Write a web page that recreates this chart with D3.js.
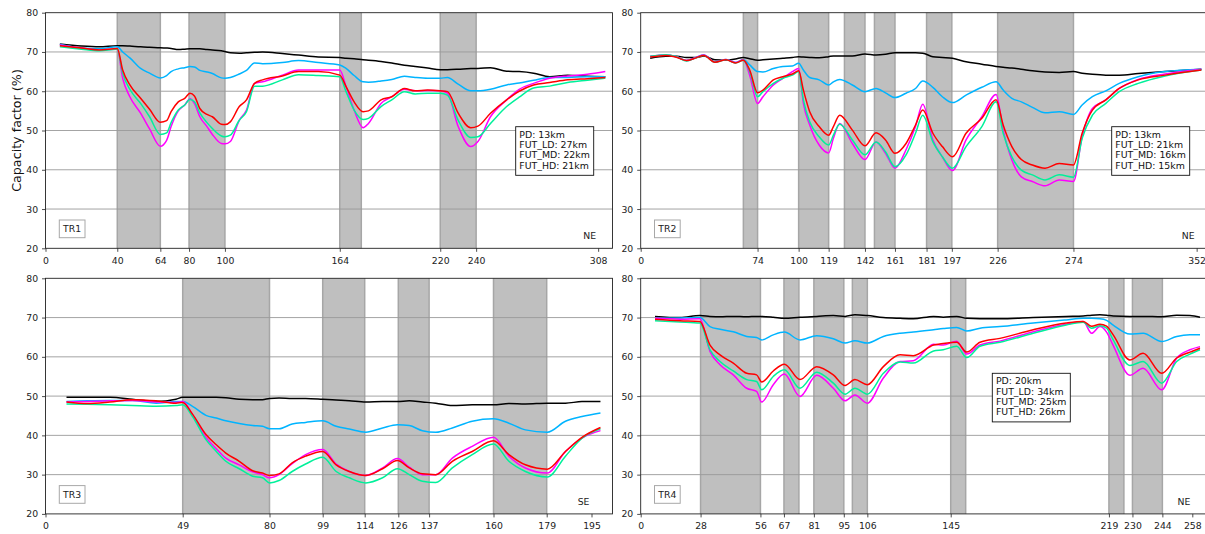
<!DOCTYPE html>
<html><head><meta charset="utf-8">
<script src="https://cdn.jsdelivr.net/npm/d3@7"></script>
<style>body{margin:0;background:#fff}svg{display:block;font-family:"DejaVu Sans",sans-serif}</style>
</head><body><svg id="c" width="1205" height="534"></svg>
<script>
// ---------------- DATA ----------------
const seriesNames = ["black", "blue", "magenta", "green", "red"];
const yTicks = [20, 30, 40, 50, 60, 70, 80];

// TR1
const tr1_dist = [8,20,30,40,43,47,53,58,64,67.5,70,74,77.6,80.5,83,86,90,93,98,100,103,108,112,116.5,121,132,141,152,164,167.5,172,177,180,187,193,200,206,213,220,224,230,237,241,248,257,264,272,281,291,302,312];
const tr1_black = [72.0,71.5,71.3,71.6,71.6,71.5,71.3,71.2,71.1,71.0,70.9,70.6,70.7,70.8,70.8,70.8,70.6,70.5,70.3,70.1,69.8,69.7,69.8,69.9,70.0,69.6,69.2,68.7,68.6,68.4,68.3,68.0,67.9,67.6,67.2,66.6,66.3,65.9,65.5,65.5,65.6,65.8,65.8,66.0,65.1,65.0,64.6,63.7,64.1,63.8,63.7];
const tr1_blue = [72.0,71.0,70.8,71.3,70.0,68.5,65.8,64.6,63.4,64.0,65.0,65.7,66.0,66.3,66.2,65.3,64.9,64.5,63.4,63.3,63.5,64.4,65.3,67.2,67.0,67.3,67.8,67.3,66.7,65.8,64.0,62.4,62.3,62.6,63.0,63.8,63.5,63.3,63.3,63.5,61.8,60.1,60.1,60.5,61.6,62.1,62.8,63.5,63.5,63.7,63.7];
const tr1_red = [71.6,71.0,70.5,70.9,65.4,61.6,58.2,55.4,52.1,52.5,54.8,57.3,58.2,59.5,58.8,55.6,54.1,53.5,51.6,51.5,52.2,56.1,57.8,62.0,62.9,63.9,65.0,65.0,64.1,61.2,57.3,54.8,55.0,57.8,58.6,60.7,60.1,60.3,60.1,59.9,54.4,50.7,51.1,54.4,57.8,60.0,61.6,62.2,62.9,63.2,63.5];
const tr1_green = [71.3,70.7,70.3,70.7,64.6,60.5,56.9,53.5,49.0,49.4,52.0,55.2,56.5,57.9,57.3,54.5,52.0,50.5,48.6,48.4,48.8,52.6,54.8,61.3,61.3,62.9,64.2,64.0,63.7,59.9,55.2,52.8,53.1,56.1,57.8,59.9,59.3,59.5,59.5,59.0,52.6,48.2,48.4,51.8,56.1,58.5,60.8,61.3,62.2,62.8,63.3];
const tr1_magenta = [71.8,71.0,70.5,70.7,63.3,58.6,54.4,50.4,46.0,47.5,51.0,55.0,56.5,58.1,56.9,53.5,51.0,49.0,46.7,46.6,47.2,52.6,55.2,62.0,62.4,64.1,65.4,65.4,65.4,61.2,55.2,50.7,51.8,56.9,58.6,60.5,60.1,60.2,60.1,59.5,51.0,45.9,47.2,53.5,57.8,60.5,62.0,63.3,63.9,64.3,65.0];
const tr1_shades = [[40,64],[80,100],[164,176],[220,240]];
const tr1_xticks = [0,40,64,80,100,164,220,240,308];
const tr1_legend = ["PD: 13km","FUT_LD: 27km","FUT_MD: 22km","FUT_HD: 21km"];

// TR2
const tr2_dist = [6,16,23,29,35,40,47,54,60,65,69,74,77.4,84,90,96,100,103,107,113,119,122,126,134,142,149,155,161,168,174,178.6,185,191,197.4,206,216,225,229.5,235,241,248,256,265,274,279.5,286,294.5,303,315,332,355];
const tr2_black = [68.4,68.9,68.9,68.6,68.6,69.0,68.0,67.9,68.2,68.6,68.3,67.9,68.0,68.2,68.4,68.6,68.8,68.7,68.6,68.5,68.8,69.0,69.0,69.0,69.5,69.2,69.4,69.8,69.8,69.8,69.7,68.8,68.6,68.4,67.5,66.9,66.3,66.1,65.9,65.6,65.2,64.9,64.8,65.0,64.6,64.3,64.1,64.1,64.5,65.0,65.6];
const tr2_blue = [68.8,69.2,68.7,67.8,68.6,69.2,67.5,68.1,67.3,68.0,66.7,65.0,64.9,65.8,66.3,66.4,67.1,65.4,63.5,62.9,61.6,62.4,63.0,61.6,59.9,60.7,59.6,58.4,59.5,60.7,62.6,61.0,58.6,57.1,59.0,61.0,62.4,60.3,58.2,57.3,55.9,54.5,54.8,54.1,56.5,58.6,60.1,62.0,63.7,65.0,65.6];
const tr2_red = [68.7,69.1,68.6,67.8,68.5,69.1,67.4,68.0,67.2,67.9,65.4,59.6,60.3,62.9,63.7,64.4,65.2,60.3,54.8,51.0,48.8,51.0,53.9,50.1,46.1,49.4,47.6,44.2,46.7,51.4,55.2,49.3,45.9,43.3,49.3,53.1,57.8,51.4,45.9,42.6,41.2,40.4,41.6,41.2,49.3,55.2,57.8,60.7,62.9,64.1,65.4];
const tr2_green = [68.9,69.3,68.7,67.7,68.5,69.1,67.4,68.0,67.2,67.9,65.0,58.6,59.9,62.0,63.3,64.1,65.0,57.8,52.2,48.4,46.3,48.8,51.6,47.6,43.8,47.1,44.6,40.8,43.8,49.3,53.9,47.1,43.3,40.4,45.9,51.0,57.3,49.3,43.3,39.9,38.7,37.4,38.7,38.1,48.0,53.9,56.9,59.9,62.0,63.9,65.4];
const tr2_magenta = [68.9,69.3,68.7,67.8,68.6,69.2,67.5,68.1,67.3,68.0,64.1,56.9,58.6,61.6,63.3,65.0,65.8,56.9,51.4,46.3,44.3,48.0,51.8,46.7,42.6,47.1,44.2,40.4,45.1,51.0,56.7,47.6,43.3,39.8,47.6,53.5,59.2,50.1,42.5,38.2,37.0,35.9,37.4,37.0,48.4,55.6,57.8,60.7,63.0,64.4,65.6];
const tr2_shades = [[65,74],[100,119],[129,142],[148,161],[181,197],[226,274]];
const tr2_xticks = [0,74,100,119,142,161,181,197,226,274,352];
const tr2_legend = ["PD: 13km","FUT_LD: 21km","FUT_MD: 16km","FUT_HD: 15km"];

// TR3
const tr3_dist = [7.5,15,23,31,39.5,46.6,49,52.5,57.3,61,64.4,69.2,74,77.5,80,83.4,88.1,92.9,99,103.8,108.5,114.4,120.4,125.7,129.9,134.6,139.4,145.3,152.4,160,165.5,171.4,179.2,185.7,191.6,198.2];
const tr3_black = [49.7,49.7,49.7,49.2,48.6,49.2,49.7,49.7,49.7,49.7,49.6,49.2,49.1,49.1,49.4,49.5,49.4,49.4,49.2,49.0,48.8,48.5,48.6,48.6,48.8,48.5,48.2,47.6,47.8,47.8,48.1,48.0,48.2,48.2,48.6,48.6];
const tr3_blue = [48.6,48.8,48.9,48.9,48.2,48.6,48.6,47.4,45.1,44.4,43.7,43.0,42.5,42.3,41.7,41.7,42.9,43.3,43.7,42.3,41.6,40.8,41.9,42.7,42.5,41.2,40.8,41.9,43.6,44.2,43.1,41.4,40.8,43.6,44.8,45.7];
const tr3_red = [48.5,48.1,48.5,49.1,48.8,48.2,48.4,45.4,40.2,37.6,35.5,33.4,31.0,30.4,29.8,30.2,33.0,34.7,35.9,32.5,30.8,29.8,31.5,33.6,31.7,30.2,30.0,33.4,35.9,38.6,35.1,32.5,31.4,35.9,39.5,42.0];
const tr3_green = [48.0,47.9,47.8,47.6,47.4,47.6,47.8,44.8,38.9,35.9,33.4,31.5,29.6,29.2,27.9,28.5,30.8,32.7,34.4,30.8,29.2,27.9,29.2,31.5,30.0,28.3,28.0,31.7,35.1,37.8,33.4,30.8,29.4,34.7,39.3,41.7];
const tr3_magenta = [48.5,48.6,48.8,48.9,48.5,48.4,48.6,45.3,39.5,36.6,34.2,32.5,30.7,30.0,29.2,30.0,32.8,35.1,36.4,32.7,30.8,29.8,31.7,34.1,31.9,30.0,30.0,34.2,37.2,39.5,34.7,31.7,30.4,35.9,39.3,41.2];
const tr3_shades = [[49,80],[99,114],[126,137],[160,179]];
const tr3_xticks = [0,49,80,99,114,126,137,160,179,195];
const tr3_legend = [];

// TR4
const tr4_dist = [6.7,18.4,27.7,32.4,37.1,43.3,49.6,54.2,56.6,62,67.2,74.5,82.3,90.1,95.6,100.2,106,113.5,121.3,127.5,137,141.5,147.8,152.5,158.7,168,183.6,199,207,210.9,214.8,217.9,221,228.8,235,243.7,250.7,256.9,261.6];
const tr4_black = [70.3,70.0,70.5,70.3,70.2,70.3,70.2,70.3,70.3,70.1,69.8,70.1,70.3,70.5,70.3,70.7,70.5,70.0,69.8,69.7,70.3,70.1,70.3,69.8,69.7,69.7,70.0,70.3,70.4,70.6,70.7,70.6,70.4,70.3,70.3,70.2,70.6,70.5,70.1];
const tr4_blue = [69.8,69.9,70.0,67.7,67.0,66.4,65.2,64.9,64.3,65.6,66.3,64.3,65.4,64.6,63.5,64.1,63.5,65.2,66.0,66.3,66.9,67.2,67.5,66.6,67.3,67.7,68.6,69.4,69.8,69.8,69.7,69.3,68.1,65.8,66.0,63.9,65.2,65.6,65.6];
const tr4_red = [69.6,69.2,69.0,63.0,60.5,58.4,55.8,55.4,53.6,56.4,58.1,54.2,57.5,55.4,52.7,54.2,52.9,57.5,60.5,60.3,63.0,63.4,63.7,61.2,63.7,64.7,66.9,68.6,69.0,67.8,68.3,67.8,65.6,59.2,60.9,55.8,59.7,61.2,62.2];
const tr4_green = [69.2,68.9,68.6,61.8,58.8,56.4,54.2,53.7,51.6,55.0,56.7,52.0,56.1,53.3,50.5,52.0,50.5,55.8,58.7,58.4,61.5,61.8,62.7,59.8,62.7,63.7,66.0,68.1,68.8,67.3,67.9,67.3,64.3,57.8,58.8,53.3,58.8,60.7,61.8];
const tr4_magenta = [69.8,69.6,69.7,61.4,58.0,55.4,52.0,51.2,48.5,52.9,55.6,49.9,55.3,52.0,48.8,50.3,48.2,54.6,58.8,59.0,63.2,63.0,64.0,60.7,63.0,64.0,66.4,68.3,69.0,66.0,67.7,66.3,62.9,55.3,57.1,51.6,59.7,61.8,62.6];
const tr4_shades = [[28,56],[67,74],[81,95],[99,106],[145,152],[219,226],[230,244]];
const tr4_xticks = [0,28,56,67,81,95,106,145,219,230,244,258];
const tr4_legend = ["PD: 20km","FUT_LD: 34km","FUT_MD: 25km","FUT_HD: 26km"];

// ---------------- DRAW ----------------
const colors = {black:"#000000", blue:"#00b4ff", magenta:"#ff00ff", green:"#00f09a", red:"#ff0000"};
const svg = d3.select("#c");
const W = 567, H = 235.6;
const panels = [
  {name:"TR1", dir:"NE", x0:45.5, y0:12.7, xmax:316, dist:tr1_dist, s:{black:tr1_black,blue:tr1_blue,magenta:tr1_magenta,green:tr1_green,red:tr1_red}, shades:tr1_shades, xt:tr1_xticks, leg:tr1_legend, lx:470.2, ly:114, ylab:true},
  {name:"TR2", dir:"NE", x0:640.7, y0:12.7, xmax:359, dist:tr2_dist, s:{black:tr2_black,blue:tr2_blue,magenta:tr2_magenta,green:tr2_green,red:tr2_red}, shades:tr2_shades, xt:tr2_xticks, leg:tr2_legend, lx:471, ly:114},
  {name:"TR3", dir:"SE", x0:45.5, y0:278.3, xmax:202.5, dist:tr3_dist, s:{black:tr3_black,blue:tr3_blue,magenta:tr3_magenta,green:tr3_green,red:tr3_red}, shades:tr3_shades, xt:tr3_xticks, leg:tr3_legend},
  {name:"TR4", dir:"NE", x0:640.7, y0:278.3, xmax:265.2, dist:tr4_dist, s:{black:tr4_black,blue:tr4_blue,magenta:tr4_magenta,green:tr4_green,red:tr4_red}, shades:tr4_shades, xt:tr4_xticks, leg:tr4_legend, lx:351.6, ly:95}
];

panels.forEach(p => {
  const g = svg.append("g").attr("transform", `translate(${p.x0},${p.y0})`);
  const x = d3.scaleLinear().domain([0, p.xmax]).range([0, W]);
  const y = d3.scaleLinear().domain([20, 80]).range([H, 0]);
  const clipId = "clip" + p.name;
  g.append("clipPath").attr("id", clipId).append("rect").attr("width", W).attr("height", H);

  // shaded spans
  const sh = g.append("g");
  p.shades.forEach(([a, b]) => {
    sh.append("rect").attr("x", x(a)).attr("y", 0).attr("width", x(b) - x(a)).attr("height", H)
      .attr("fill", "#bfbfbf");
    [a, b].forEach(v => sh.append("line").attr("x1", x(v)).attr("x2", x(v)).attr("y1", 0).attr("y2", H)
      .attr("stroke", "#a6a6a6").attr("stroke-width", 1.5));
  });

  // gridlines
  g.append("g").selectAll("line").data(yTicks.slice(1, -1)).join("line")
    .attr("x1", 0).attr("x2", W).attr("y1", d => y(d)).attr("y2", d => y(d))
    .attr("stroke", "#9a9a9a").attr("stroke-width", 0.9);

  // lines
  const lg = g.append("g").attr("clip-path", `url(#${clipId})`);
  seriesNames.forEach(k => {
    const pts = p.dist.map((d, i) => [d, p.s[k][i]]);
    lg.append("path").datum(pts)
      .attr("d", d3.line().x(d => x(d[0])).y(d => y(d[1])).curve(d3.curveMonotoneX))
      .attr("fill", "none").attr("stroke", colors[k]).attr("stroke-width", 1.5)
      .attr("stroke-linejoin", "round");
  });

  // axes
  const xa = g.append("g").attr("transform", `translate(0,${H})`)
    .call(d3.axisBottom(x).tickValues(p.xt).tickFormat(d3.format("d")).tickSize(3.5).tickSizeOuter(0));
  const ya = g.append("g")
    .call(d3.axisLeft(y).tickValues(yTicks).tickFormat(d3.format("d")).tickSize(3.5).tickSizeOuter(0));
  [xa, ya].forEach(a => {
    a.select(".domain").remove();
    a.selectAll("text").attr("font-size", 9.3).attr("fill", "#222").attr("font-family", "DejaVu Sans");
    a.selectAll("line").attr("stroke", "#222").attr("stroke-width", 0.8);
  });
  xa.selectAll("text").attr("dy", "0.95em");
  ya.selectAll("text").attr("dx", "-0.1em");

  // frame
  g.append("rect").attr("width", W).attr("height", H).attr("fill", "none")
    .attr("stroke", "#222").attr("stroke-width", 0.9);

  // TR label
  const tb = g.append("g").attr("transform", `translate(13.8,${H - 28.3})`);
  tb.append("rect").attr("width", 25.7).attr("height", 17.7).attr("fill", "#fff")
    .attr("stroke", "#a8a8a8").attr("stroke-width", 1);
  tb.append("text").attr("x", 12.85).attr("y", 12.3).attr("text-anchor", "middle")
    .attr("font-size", 9.3).attr("fill", "#222").text(p.name);

  // direction label
  g.append("text").attr("x", x(p.xt[p.xt.length - 1]) - 2).attr("y", H - 8.8).attr("text-anchor", "end")
    .attr("font-size", 9.3).attr("fill", "#222").text(p.dir);

  // legend box
  if (p.leg.length) {
    const lb = g.append("g").attr("transform", `translate(${p.lx},${p.ly})`);
    lb.append("rect").attr("width", 78).attr("height", 48.6).attr("fill", "#fff")
      .attr("stroke", "#111").attr("stroke-width", 0.9);
    p.leg.forEach((t, i) => lb.append("text").attr("x", 3.6).attr("y", 11 + i * 10.35)
      .attr("font-size", 9.4).attr("fill", "#111").text(t));
  }

  if (p.ylab) {
    svg.append("text").attr("transform", `translate(20.5,${p.y0 + H / 2}) rotate(-90)`)
      .attr("text-anchor", "middle").attr("font-size", 12.7).attr("fill", "#111")
      .text("Capacity factor (%)");
  }
});
</script></body></html>
